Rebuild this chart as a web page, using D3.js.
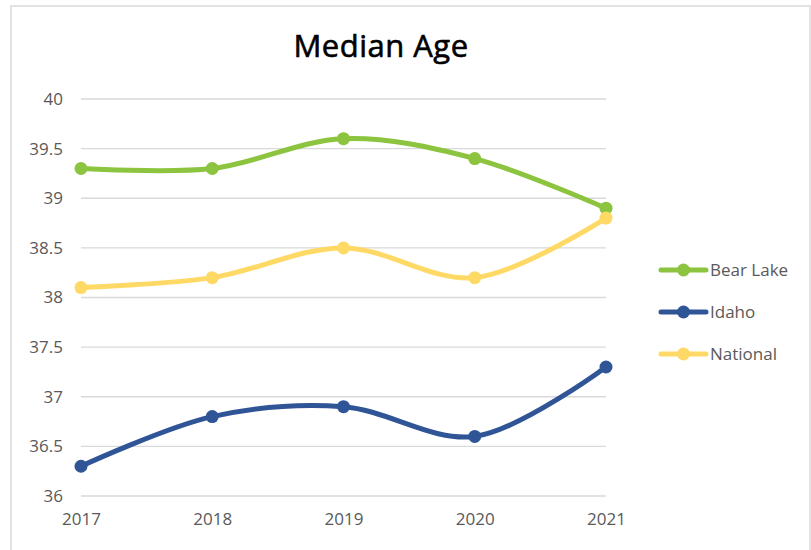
<!DOCTYPE html>
<html>
<head>
<meta charset="utf-8">
<script src="https://cdn.jsdelivr.net/npm/d3@7"></script>
<style>
  body { margin: 0; background: #fff; }
  svg { display: block; }
</style>
</head>
<body>
<div id="chart"></div>
<script>
// data
var years = ["2017", "2018", "2019", "2020", "2021"];
var bearLake = [39.3, 39.3, 39.6, 39.4, 38.9];
var idaho = [36.3, 36.8, 36.9, 36.6, 37.3];
var national = [38.1, 38.2, 38.5, 38.2, 38.8];
var yTicks = [36, 36.5, 37, 37.5, 38, 38.5, 39, 39.5, 40];

var series = [
    { name: "Bear Lake", values: bearLake, color: "#8cc43f" },
    { name: "Idaho", values: idaho, color: "#2f5597" },
    { name: "National", values: national, color: "#ffd966" }
];

var axisFont = "'Open Sans', 'Liberation Sans', sans-serif";

var svgWidth = 811;
var svgHeight = 550;

var svg = d3.select("#chart")
    .append("svg")
    .attr("width", svgWidth)
    .attr("height", svgHeight);

// outer frame (only top, left, right are visible)
svg.append("rect")
    .attr("x", 11)
    .attr("y", 6)
    .attr("width", 799)
    .attr("height", 560)
    .attr("fill", "none")
    .attr("stroke", "#d9d9d9")
    .attr("stroke-width", 1.5);

svg.append("text")
    .attr("x", 381)
    .attr("y", 57)
    .attr("text-anchor", "middle")
    .style("font-family", axisFont)
    .style("font-size", "31px")
    .style("letter-spacing", "0.5px")
    .style("fill", "#000")
    .style("stroke", "#000")
    .style("stroke-width", "0.6px")
    .text("Median Age");

var xScale = d3.scalePoint()
    .domain(years)
    .range([81, 606]);

var yScale = d3.scaleLinear()
    .domain([36, 40])
    .range([496, 99]);

// gridlines
svg.append("g")
    .selectAll("line")
    .data(yTicks)
    .enter()
    .append("line")
    .attr("x1", 81)
    .attr("x2", 606)
    .attr("y1", d => yScale(d))
    .attr("y2", d => yScale(d))
    .attr("stroke", "#d9d9d9")
    .attr("stroke-width", 1.3);

var yAxis = d3.axisLeft(yScale)
    .tickValues(yTicks)
    .tickSize(0)
    .tickPadding(0)
    .tickFormat(d => String(d));

var yAxisG = svg.append("g")
    .attr("transform", "translate(63,0)")
    .call(yAxis);
yAxisG.select(".domain").remove();

var xAxis = d3.axisBottom(xScale)
    .tickSize(0)
    .tickPadding(0);

var xAxisG = svg.append("g")
    .attr("transform", "translate(0,513)")
    .call(xAxis);
xAxisG.select(".domain").remove();

svg.selectAll(".tick text")
    .style("font-family", axisFont)
    .style("font-size", "17px")
    .style("fill", "#595959");

var line = d3.line()
    .x((d, i) => xScale(years[i]))
    .y(d => yScale(d))
    .curve(d3.curveCatmullRom.alpha(0.5));

series.forEach(function (s) {
    svg.append("path")
        .datum(s.values)
        .attr("d", line)
        .attr("fill", "none")
        .attr("stroke", s.color)
        .attr("stroke-width", 5)
        .attr("stroke-linecap", "round");

    svg.append("g")
        .selectAll("circle")
        .data(s.values)
        .enter()
        .append("circle")
        .attr("cx", (d, i) => xScale(years[i]))
        .attr("cy", d => yScale(d))
        .attr("r", 6.5)
        .attr("fill", s.color);
});

// legend
var legend = svg.append("g")
    .selectAll("g")
    .data(series)
    .enter()
    .append("g")
    .attr("transform", (d, i) => `translate(661,${270 + i * 42})`);

legend.append("line")
    .attr("x1", 0)
    .attr("x2", 45)
    .attr("stroke", d => d.color)
    .attr("stroke-width", 5)
    .attr("stroke-linecap", "round");

legend.append("circle")
    .attr("cx", 22.5)
    .attr("r", 6.5)
    .attr("fill", d => d.color);

legend.append("text")
    .attr("x", 49)
    .attr("y", 6)
    .style("font-family", axisFont)
    .style("font-size", "17px")
    .style("fill", "#595959")
    .text(d => d.name);
</script>
</body>
</html>
